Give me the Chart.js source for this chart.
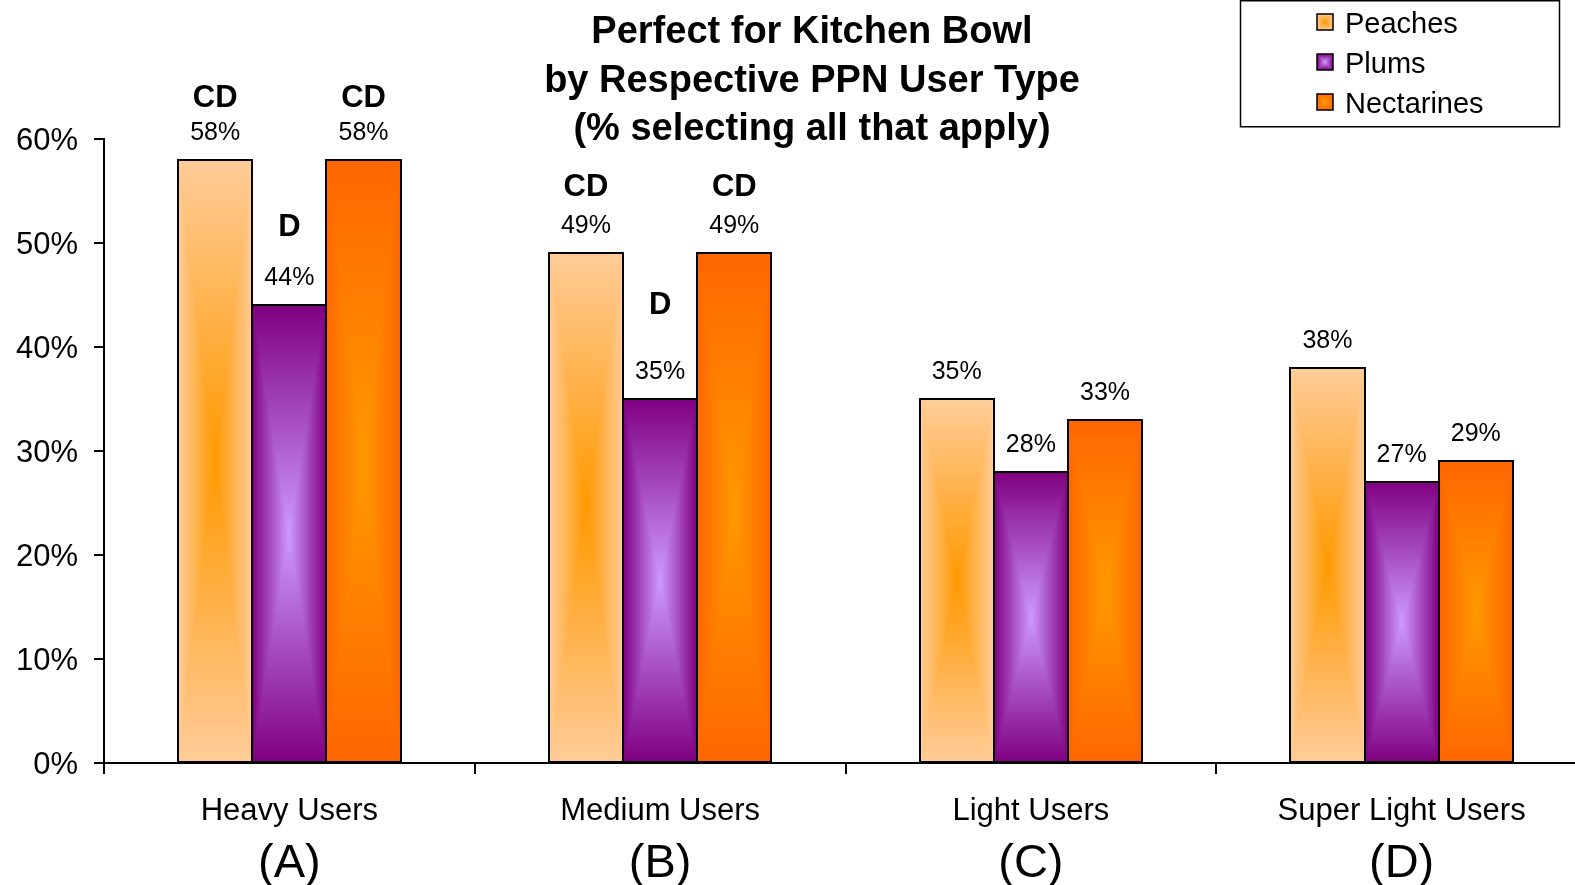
<!DOCTYPE html>
<html>
<head>
<meta charset="utf-8">
<title>Perfect for Kitchen Bowl</title>
<script src="https://cdn.jsdelivr.net/npm/chart.js@4.4.1/dist/chart.umd.min.js"></script>
<style>
  html, body { margin: 0; padding: 0; background: #fff; overflow: hidden; width: 1575px; height: 885px; }
  #wrap { position: absolute; left: 0; top: 0; width: 1587px; height: 885px; }
</style>
</head>
<body>
<div id="wrap"><canvas id="chart" width="1587" height="885"></canvas></div>
<script>
// ---- data ----
const categories = ['Heavy Users', 'Medium Users', 'Light Users', 'Super Light Users'];
const groupCodes = ['(A)', '(B)', '(C)', '(D)'];
const seriesNames = ['Peaches', 'Plums', 'Nectarines'];
const peaches = [58, 49, 35, 38];
const plums = [44, 35, 28, 27];
const nectarines = [58, 49, 33, 29];
// significance letters shown above each bar
const peachesSig = ['CD', 'CD', '', ''];
const plumsSig = ['D', 'D', '', ''];
const nectarinesSig = ['CD', 'CD', '', ''];
const yTickValues = [0, 10, 20, 30, 40, 50, 60];
const titleLines = ['Perfect for Kitchen Bowl', 'by Respective PPN User Type', '(% selecting all that apply)'];

// ---- styling ----
const FONT = "'Liberation Sans', Arial, Helvetica, sans-serif";
// rectangular "from centre" fills: edge colour -> centre colour
const fills = [
  { edge: [255, 204, 153], center: [255, 153, 0] },
  { edge: [128, 0, 128], center: [204, 153, 255] },
  { edge: [255, 102, 0], center: [255, 153, 0] }
];
// how far the significance letters sit above the bar top (px)
const sigLift = [[61, 66, 0, 0], [78, 94, 0, 0], [61, 66, 0, 0]];

const tileCache = {};
function rectGradientTile(w, h, fill) {
  const key = w + 'x' + h + ':' + fill.edge.join(',');
  if (tileCache[key]) return tileCache[key];
  const c = document.createElement('canvas');
  c.width = Math.max(1, w); c.height = Math.max(1, h);
  const g = c.getContext('2d');
  const img = g.createImageData(c.width, c.height);
  const hw = c.width / 2, hh = c.height / 2;
  for (let j = 0; j < c.height; j++) {
    const dy = Math.abs(j + 0.5 - hh) / hh;
    for (let i = 0; i < c.width; i++) {
      const dx = Math.abs(i + 0.5 - hw) / hw;
      const t = Math.min(1, Math.max(dx, dy));
      const k = (j * c.width + i) * 4;
      for (let ch = 0; ch < 3; ch++) {
        img.data[k + ch] = Math.round(fill.center[ch] + (fill.edge[ch] - fill.center[ch]) * t);
      }
      img.data[k + 3] = 255;
    }
  }
  g.putImageData(img, 0, 0);
  tileCache[key] = c;
  return c;
}

const sigLetters = [peachesSig, plumsSig, nectarinesSig];

// paints the gradient body and outline of every bar, then the value / letter labels
const barDecor = {
  id: 'barDecor',
  afterDatasetsDraw(chart) {
    const ctx = chart.ctx;
    ctx.save();
    chart.data.datasets.forEach((ds, d) => {
      const meta = chart.getDatasetMeta(d);
      meta.data.forEach((el) => {
        const p = el.getProps(['x', 'y', 'base', 'width'], true);
        const left = Math.round(p.x - p.width / 2);
        const right = Math.round(p.x + p.width / 2);
        const top = Math.round(p.y);
        const bottom = Math.round(p.base);
        const tile = rectGradientTile(right - left, bottom - top, fills[d]);
        ctx.drawImage(tile, left, top);
        ctx.lineWidth = 2;
        ctx.strokeStyle = '#000';
        ctx.strokeRect(left, top, right - left, bottom - top);
      });
    });
    ctx.fillStyle = '#000';
    ctx.textAlign = 'center';
    ctx.textBaseline = 'middle';
    chart.data.datasets.forEach((ds, d) => {
      const meta = chart.getDatasetMeta(d);
      meta.data.forEach((el, i) => {
        const p = el.getProps(['x', 'y'], true);
        ctx.font = '25px ' + FONT;
        ctx.fillText(ds.data[i] + '%', p.x, p.y - 27);
        const sig = sigLetters[d][i];
        if (sig) {
          ctx.font = 'bold 31px ' + FONT;
          ctx.fillText(sig, p.x, p.y - sigLift[d][i]);
        }
      });
    });
    ctx.restore();
  }
};

// title, group codes under the category names, and the boxed legend
const extras = {
  id: 'extras',
  afterDraw(chart) {
    const ctx = chart.ctx;
    ctx.save();
    ctx.fillStyle = '#000';
    ctx.textAlign = 'center';
    ctx.textBaseline = 'middle';
    ctx.font = 'bold 38px ' + FONT;
    titleLines.forEach((t, i) => ctx.fillText(t, 812, 33 + i * 48.3));

    const xs = chart.scales.x;
    ctx.font = '47px ' + FONT;
    groupCodes.forEach((g, i) => ctx.fillText(g, xs.getPixelForValue(i), 864));

    // legend
    ctx.lineWidth = 1.5;
    ctx.strokeStyle = '#000';
    ctx.strokeRect(1240.5, 0.75, 319, 126);
    ctx.textAlign = 'left';
    ctx.textBaseline = 'alphabetic';
    ctx.font = '29px ' + FONT;
    seriesNames.forEach((name, i) => {
      const cy = 22 + i * 40;
      const size = 16;
      const tile = rectGradientTile(size, size, fills[i]);
      const ty = Math.round(cy - size / 2);
      ctx.drawImage(tile, 1317, ty);
      ctx.lineWidth = 1.5;
      ctx.strokeRect(1317, ty, size, size);
      ctx.fillText(name, 1345, 32.5 + i * 40);
    });
    ctx.restore();
  }
};

new Chart(document.getElementById('chart'), {
  type: 'bar',
  data: {
    labels: categories,
    datasets: [
      { label: seriesNames[0], data: peaches, backgroundColor: 'rgb(255,204,153)', borderWidth: 0 },
      { label: seriesNames[1], data: plums, backgroundColor: 'rgb(128,0,128)', borderWidth: 0 },
      { label: seriesNames[2], data: nectarines, backgroundColor: 'rgb(255,102,0)', borderWidth: 0 }
    ]
  },
  options: {
    responsive: false,
    devicePixelRatio: 1,
    animation: false,
    layout: { padding: { top: 139, left: 0, right: 0, bottom: 0 } },
    datasets: { bar: { categoryPercentage: 0.6, barPercentage: 1.0 } },
    plugins: { legend: { display: false }, tooltip: { enabled: false }, title: { display: false } },
    scales: {
      x: {
        grid: { drawOnChartArea: false, drawTicks: true, tickLength: 11, color: '#000', lineWidth: 2, offset: true },
        border: { display: true, color: '#000', width: 2 },
        ticks: { color: '#000', font: { family: FONT, size: 31 }, padding: 19, maxRotation: 0, autoSkip: false },
        afterFit: (s) => { s.height = 122; }
      },
      y: {
        min: 0, max: 60,
        afterBuildTicks: (s) => { s.ticks = yTickValues.map(v => ({ value: v })); },
        grid: { drawOnChartArea: false, drawTicks: true, tickLength: 10, color: '#000', lineWidth: 2 },
        border: { display: true, color: '#000', width: 2 },
        ticks: { color: '#000', font: { family: FONT, size: 31 }, padding: 16, labelOffset: 2, callback: (v) => v + '%' },
        afterFit: (s) => { s.width = 104; }
      }
    }
  },
  plugins: [barDecor, extras]
});
</script>
</body>
</html>
